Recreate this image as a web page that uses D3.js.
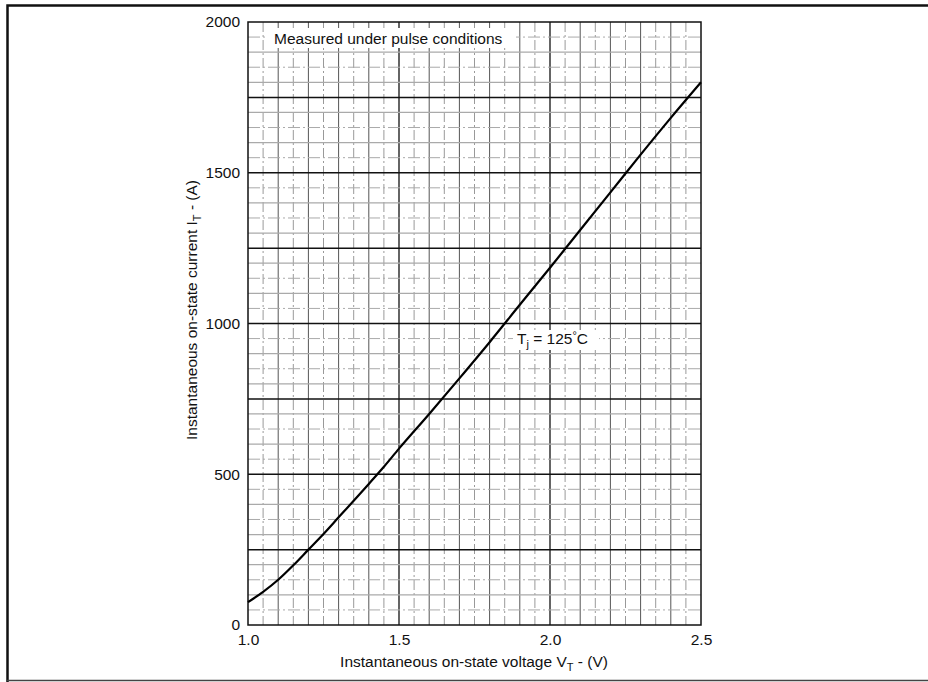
<!DOCTYPE html>
<html><head><meta charset="utf-8">
<script src="https://cdn.jsdelivr.net/npm/d3@7"></script>
<style>body{margin:0;background:#fff}svg{display:block}text{font-family:"Liberation Sans",Arial,sans-serif;fill:#111}</style>
</head><body><svg id="c" width="928" height="682"></svg>
<script>
const voltage = [1.0,1.05,1.1,1.15,1.2,1.25,1.3,1.35,1.4,1.45,1.5,1.6,1.7,1.8,1.9,2.0,2.1,2.2,2.3,2.4,2.5];
const current = [76,110,150,198,250,302,357,412,468,525,585,700,818,938,1062,1185,1310,1435,1560,1682,1800];
const xTicks = [1.0,1.5,2.0,2.5];
const yTicks = [0,500,1000,1500,2000];
const xTickLabels = ["1.0","1.5","2.0","2.5"];

const svg = d3.select("#c");
const L=248,R=701,T=22,B=625;
const FS = 15.5;
const x = d3.scaleLinear().domain([1.0,2.5]).range([L,R]);
const y = d3.scaleLinear().domain([0,2000]).range([B,T]);

// outer frame
svg.append("path").attr("d",`M7.5,682 V5.5 H928`).attr("fill","none").attr("stroke","#111").attr("stroke-width",2.5);
svg.append("line").attr("x1",7).attr("x2",928).attr("y1",680.5).attr("y2",680.5).attr("stroke","#444").attr("stroke-width",1.3);

const g = svg.append("g");
// vertical grid every 0.05
d3.range(1,30).forEach(i=>{
  const v = 1.0 + i*0.05;
  const odd = i%2===1;
  const major = i%10===0;
  g.append("line").attr("x1",x(v)).attr("x2",x(v)).attr("y1",T).attr("y2",B)
   .attr("stroke", major?"#111":(odd?"#999":"#555"))
   .attr("stroke-width", major?1.3:1)
   .attr("stroke-dasharray", odd?"10,3,2,3":null);
});
// horizontal grid every 50
d3.range(1,40).forEach(i=>{
  const a = i*50;
  const major = a%250===0;
  const kind = i%2;
  g.append("line").attr("x1",L).attr("x2",R).attr("y1",y(a)).attr("y2",y(a))
   .attr("stroke", major?"#111":"#aaa")
   .attr("stroke-width", major?1.5:(kind?1:1.3))
   .attr("stroke-dasharray", major?null:(kind?"12,3,2,3":null));
});
// plot border
svg.append("rect").attr("x",L).attr("y",T).attr("width",R-L).attr("height",B-T).attr("fill","none").attr("stroke","#111").attr("stroke-width",1.5);

// axes
const xAxis = d3.axisBottom(x).tickValues(xTicks).tickFormat((d,i)=>xTickLabels[i]).tickSize(0).tickPadding(9);
const gx = svg.append("g").attr("transform",`translate(0,${B})`).call(xAxis);
gx.select(".domain").remove();
gx.selectAll("text").attr("font-size",FS).attr("fill","#111").attr("font-family","Liberation Sans, Arial, sans-serif");
const yAxis = d3.axisLeft(y).tickValues(yTicks).tickFormat(d3.format("d")).tickSize(0).tickPadding(8);
const gy = svg.append("g").attr("transform",`translate(${L},0)`).call(yAxis);
gy.select(".domain").remove();
gy.selectAll("text").attr("font-size",FS).attr("fill","#111").attr("font-family","Liberation Sans, Arial, sans-serif");

// curve
const line = d3.line().x((d,i)=>x(voltage[i])).y((d,i)=>y(current[i])).curve(d3.curveMonotoneX);
svg.append("path").datum(current).attr("d",line).attr("fill","none").attr("stroke","#000").attr("stroke-width",2.2);

// annotations
function bg(tx,ty,w){
  svg.append("rect").attr("x",tx).attr("y",ty).attr("width",w).attr("height",20).attr("fill","#fff");
}
bg(268,28,248);
svg.append("text").attr("x",274).attr("y",44).attr("font-size",FS).text("Measured under pulse conditions");
bg(513,330,86);
const tj = svg.append("text").attr("x",517).attr("y",344).attr("font-size",FS);
tj.append("tspan").text("T");
tj.append("tspan").attr("font-size",11).attr("dy",4).text("j");
tj.append("tspan").attr("dy",-4).text(" = 125");
tj.append("tspan").attr("font-size",11).attr("dy",-5).text("°");
tj.append("tspan").attr("dy",5).text("C");

// axis titles
const xt = svg.append("text").attr("x",474).attr("y",667).attr("text-anchor","middle").attr("font-size",FS);
xt.append("tspan").text("Instantaneous on-state voltage V");
xt.append("tspan").attr("font-size",11).attr("dy",4).text("T");
xt.append("tspan").attr("dy",-4).text(" - (V)");
const yt = svg.append("text").attr("transform","translate(197,310) rotate(-90)").attr("text-anchor","middle").attr("font-size",FS);
yt.append("tspan").text("Instantaneous on-state current I");
yt.append("tspan").attr("font-size",11).attr("dy",4).text("T");
yt.append("tspan").attr("dy",-4).text(" - (A)");
</script></body></html>
